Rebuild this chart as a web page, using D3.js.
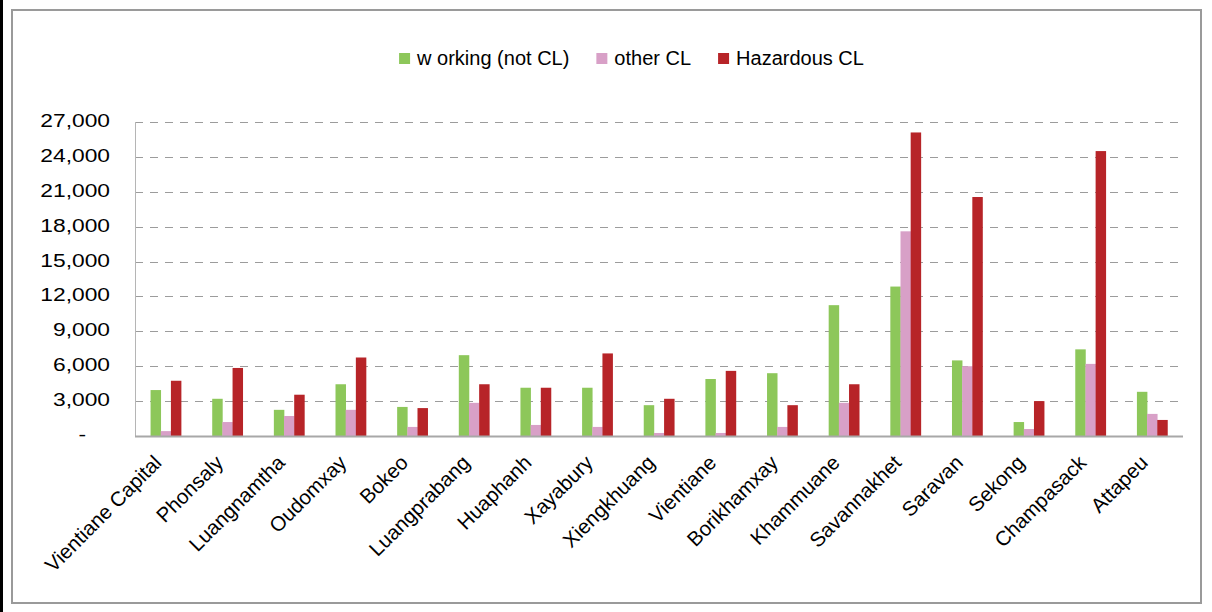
<!DOCTYPE html>
<html>
<head>
<meta charset="utf-8">
<script src="https://cdn.jsdelivr.net/npm/d3@7"></script>
<style>
  html, body { margin: 0; padding: 0; background: #fff; }
  svg { display: block; font-family: "Liberation Sans", Arial, sans-serif; }
</style>
</head>
<body>
<svg id="chart" width="1212" height="612"></svg>
<script>
const categories = ["Vientiane Capital", "Phonsaly", "Luangnamtha", "Oudomxay", "Bokeo", "Luangprabang", "Huaphanh", "Xayabury", "Xiengkhuang", "Vientiane", "Borikhamxay", "Khammuane", "Savannakhet", "Saravan", "Sekong", "Champasack", "Attapeu"];
const seriesNames = ["w orking (not CL)", "other CL", "Hazardous CL"];
const working = [3950, 3200, 2250, 4450, 2500, 6950, 4150, 4150, 2650, 4900, 5400, 11250, 12850, 6500, 1200, 7450, 3800];
const otherCL = [420, 1200, 1720, 2250, 780, 2850, 950, 780, 260, 260, 780, 2850, 17600, 6000, 600, 6200, 1900];
const hazardous = [4750, 5850, 3550, 6750, 2400, 4450, 4150, 7100, 3200, 5600, 2650, 4450, 26100, 20550, 3000, 24500, 1380];
const yTicks = [0, 3000, 6000, 9000, 12000, 15000, 18000, 21000, 24000, 27000];
const yTickLabels = ["-", "3,000", "6,000", "9,000", "12,000", "15,000", "18,000", "21,000", "24,000", "27,000"];
const colors = ["#8dc75a", "#d8a0c7", "#b72428"];

(function () {
const svg = d3.select("#chart");

// frame
svg.append("rect").attr("x", 0).attr("y", 0).attr("width", 3).attr("height", 612).attr("fill", "#000");
svg.append("rect").attr("x", 12).attr("y", 10).attr("width", 1189).attr("height", 593)
  .attr("fill", "none").attr("stroke", "#9a9a9a").attr("stroke-width", 2);

const pL = 135, pR = 1183, pT = 122, pB = 436;
const x = d3.scaleBand().domain(categories).range([pL, pR]).paddingInner(0).paddingOuter(0);
const y = d3.scaleLinear().domain([0, 27000]).range([pB, pT]);

// gridlines
svg.append("g").selectAll("line").data(yTicks.filter(d => d > 0)).join("line")
  .attr("x1", pL).attr("x2", pR)
  .attr("y1", d => Math.round(y(d)) + 0.5).attr("y2", d => Math.round(y(d)) + 0.5)
  .attr("stroke", "#9c9c9c").attr("stroke-width", 1.2).attr("stroke-dasharray", "8,7");

// y axis line
svg.append("line").attr("x1", pL + 0.5).attr("x2", pL + 0.5).attr("y1", pT).attr("y2", pB)
  .attr("stroke", "#b5b5b5").attr("stroke-width", 1);

// bars
const series = [working, otherCL, hazardous];
const bw = x.bandwidth() * 0.165;
const gx = d3.scaleBand().domain([0, 1, 2]).range([0, bw * 3]);
const groups = svg.append("g").selectAll("g").data(categories).join("g")
  .attr("transform", d => `translate(${x(d) + x.bandwidth() / 2 - bw * 1.5},0)`);
groups.selectAll("rect").data((d, i) => series.map((s, k) => ({ k, v: s[i] }))).join("rect")
  .attr("x", d => gx(d.k)).attr("width", gx.bandwidth() + 0.3)
  .attr("y", d => y(d.v)).attr("height", d => y(0) - y(d.v))
  .attr("fill", d => colors[d.k]);

// x axis baseline
svg.append("line").attr("x1", pL).attr("x2", pR).attr("y1", pB + 0.5).attr("y2", pB + 0.5)
  .attr("stroke", "#a8a8a8").attr("stroke-width", 2);

// y labels
svg.append("g").selectAll("text").data(yTicks).join("text")
  .attr("transform", (d, i) => `translate(${yTickLabels[i] === "-" ? 86 : 110},${y(d) + 5}) scale(1.2,1)`)
  .attr("text-anchor", "end").attr("font-size", 19).attr("fill", "#000")
  .text((d, i) => yTickLabels[i]);

// x labels
svg.append("g").selectAll("text").data(categories).join("text")
  .attr("transform", d => `translate(${x(d) + x.bandwidth() / 2 - 3},464) rotate(-45)`)
  .attr("text-anchor", "end").attr("font-size", 20.5).attr("fill", "#000")
  .text(d => d);

// legend
const legend = svg.append("g");
let cx = 0;
seriesNames.forEach((name, i) => {
  const g = legend.append("g");
  g.append("rect").attr("x", 0).attr("y", 53).attr("width", 11).attr("height", 11).attr("fill", colors[i]);
  const t = g.append("text").attr("x", 18).attr("y", 64.5).attr("font-size", 20).attr("fill", "#000").text(name);
  const w = 18 + t.node().getComputedTextLength();
  g.attr("transform", `translate(${cx},0)`);
  cx += w + 27;
});
const totalW = cx - 27;
legend.attr("transform", `translate(${631.5 - totalW / 2},0)`);
})();
</script>
</body>
</html>
